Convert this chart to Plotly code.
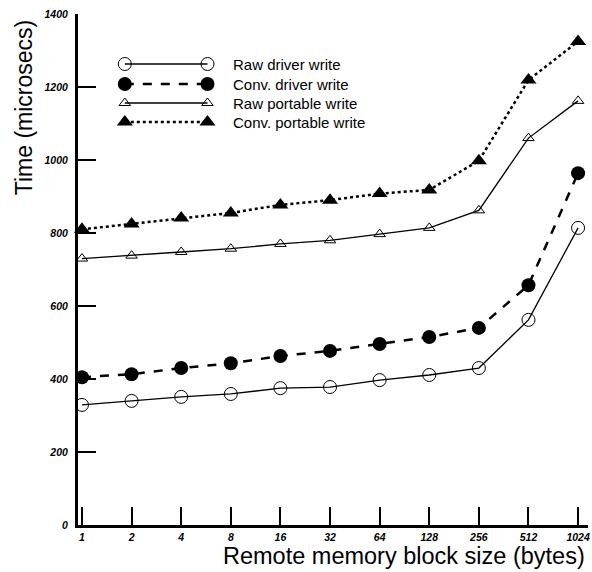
import plotly.graph_objects as go

block_sizes = ["1", "2", "4", "8", "16", "32", "64", "128", "256", "512", "1024"]
raw_driver = [329, 340, 351, 359, 375, 378, 397, 411, 430, 562, 814]
conv_driver = [405, 413, 430, 443, 463, 477, 496, 515, 540, 657, 964]
raw_portable = [730, 738, 748, 757, 770, 780, 797, 814, 862, 1060, 1162]
conv_portable = [810, 825, 841, 855, 877, 890, 908, 918, 998, 1219, 1325]
y_ticks = [0, 200, 400, 600, 800, 1000, 1200, 1400]

series = [
    ("Raw driver write", raw_driver,
     dict(symbol="circle-open", size=13, color="black", line=dict(width=1)),
     dict(color="black", width=1.3, dash="solid")),
    ("Conv. driver write", conv_driver,
     dict(symbol="circle", size=14, color="black"),
     dict(color="black", width=2.5, dash="dash")),
    ("Raw portable write", raw_portable,
     dict(symbol="triangle-up-open", size=10, color="black", line=dict(width=1)),
     dict(color="black", width=1.3, dash="solid")),
    ("Conv. portable write", conv_portable,
     dict(symbol="triangle-up", size=14, color="black"),
     dict(color="black", width=2.5, dash="dot")),
]

# plot area in pixels (for placing legend/titles)
PL, PR, PT, PB = 78, 590, 14, 525
def px(x):
    return (x - PL) / (PR - PL)
def py(y):
    return (PB - y) / (PB - PT)

x_idx = list(range(len(block_sizes)))
fig = go.Figure()
for name, vals, mk, ln in series:
    fig.add_trace(go.Scatter(x=x_idx, y=vals, mode="lines+markers", name=name,
                             marker=mk, line=ln, showlegend=False, cliponaxis=False))

# custom legend on an overlay axis (pixel-like coords of plot area)
leg_rows = [64, 84, 103, 122]
leg_x0, leg_x1, leg_text = 125, 208, 232
for (name, vals, mk, ln), ry in zip(series, leg_rows):
    fig.add_trace(go.Scatter(x=[leg_x0, leg_x1], y=[ry, ry], mode="lines+markers",
                             marker=mk, line=ln, xaxis="x2", yaxis="y2",
                             showlegend=False, hoverinfo="skip", cliponaxis=False))
    fig.add_annotation(x=px(leg_text), y=py(ry), xref="paper", yref="paper", text=name,
                       showarrow=False, xanchor="left", yanchor="middle",
                       font=dict(family="Liberation Sans", size=15, color="black"))

# axis titles placed like the reference
fig.add_annotation(x=px(405), y=py(556), xref="paper", yref="paper",
                   text="Remote memory block size (bytes)",
                   showarrow=False, xanchor="center", yanchor="middle",
                   font=dict(family="Liberation Sans", size=23.5, color="black"))
fig.add_annotation(x=px(24), y=py(108), xref="paper", yref="paper", text="Time (microsecs)",
                   showarrow=False, textangle=-90, xanchor="center", yanchor="middle",
                   font=dict(family="Liberation Sans", size=23, color="black"))

tick_font = dict(family="Liberation Sans", size=10.5, weight="bold", style="italic")
fig.update_layout(
    width=592, height=572,
    margin=dict(l=PL, r=592 - PR, t=PT, b=572 - PB),
    paper_bgcolor="white", plot_bgcolor="white",
    font=dict(family="Liberation Sans", color="black"),
    xaxis=dict(range=[-0.08, 10.2], tickvals=x_idx, ticktext=block_sizes,
               showgrid=False, zeroline=False, showline=True, linewidth=3,
               linecolor="black", ticks="inside", ticklen=18, tickwidth=1.5,
               tickcolor="black", tickfont=tick_font, ticklabeloverflow="allow"),
    yaxis=dict(range=[0, 1400], tickvals=y_ticks,
               showgrid=False, zeroline=False, showline=True, linewidth=3,
               linecolor="black", ticks="inside", ticklen=18, tickwidth=2,
               tickcolor="black", tickfont=tick_font, ticklabelstandoff=5),
    xaxis2=dict(range=[PL, PR], overlaying="x", visible=False, fixedrange=True),
    yaxis2=dict(range=[PB, PT], overlaying="y", visible=False, fixedrange=True),
)

fig.write_html("out.html", config={"displayModeBar": False},
               post_script="document.body.style.margin='0px';")
